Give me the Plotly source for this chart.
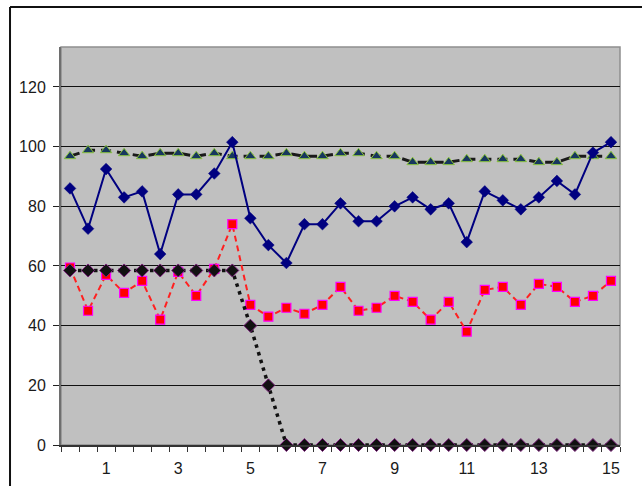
import plotly.graph_objects as go

# Sample positions (half-step categories) and the four measured series
x_vals = [0, 0.5, 1, 1.5, 2, 2.5, 3, 3.5, 4, 4.5, 5, 5.5, 6, 6.5, 7, 7.5,
          8, 8.5, 9, 9.5, 10, 10.5, 11, 11.5, 12, 12.5, 13, 13.5, 14, 14.5, 15]

series_blue = [86, 72.5, 92.5, 83, 85, 64, 84, 84, 91, 101.5, 76, 67, 61, 74, 74, 81,
               75, 75, 80, 83, 79, 81, 68, 85, 82, 79, 83, 88.5, 84, 98, 101.5]

series_green = [96.8, 98.8, 98.8, 97.8, 96.8, 97.8, 97.8, 96.8, 97.8, 96.8, 96.8, 96.8,
                97.8, 96.8, 96.8, 97.8, 97.8, 96.8, 96.8, 94.8, 94.8, 94.8, 95.8, 95.8,
                95.8, 95.8, 94.8, 94.8, 96.8, 96.8, 96.8]

series_red = [59.5, 45, 57, 51, 55, 42, 58, 50, 59, 74, 47, 43, 46, 44, 47, 53,
              45, 46, 50, 48, 42, 48, 38, 52, 53, 47, 54, 53, 48, 50, 55]

series_black = [58.5, 58.5, 58.5, 58.5, 58.5, 58.5, 58.5, 58.5, 58.5, 58.5, 40, 20,
                0, 0, 0, 0, 0, 0, 0, 0, 0, 0, 0, 0, 0, 0, 0, 0, 0, 0, 0]

y_ticks = [0, 20, 40, 60, 80, 100, 120]
x_ticks = [1, 3, 5, 7, 9, 11, 13, 15]
x_tick_text = ["1", "3", "5", "7", "9", "11", "13", "15"]

fig = go.Figure()

fig.add_trace(go.Scatter(
    x=x_vals, y=series_green, mode="lines+markers",
    line=dict(color="#1a1a1a", width=3, dash="10px,6px"),
    marker=dict(symbol="triangle-up", size=10, color="#17375E",
                line=dict(color="#8DC63F", width=1)),
    cliponaxis=False,
))
fig.add_trace(go.Scatter(
    x=x_vals, y=series_red, mode="lines+markers",
    line=dict(color="#FF2020", width=2, dash="6px,4px"),
    marker=dict(symbol="square", size=9, color="#FF0000",
                line=dict(color="#FF00FF", width=1.2)),
    cliponaxis=False,
))
fig.add_trace(go.Scatter(
    x=x_vals, y=series_black, mode="lines+markers",
    line=dict(color="#111111", width=3.5, dash="3.5px,4.5px"),
    marker=dict(symbol="diamond", size=10, color="#111111",
                line=dict(color="#7A1F7A", width=1)),
    cliponaxis=False,
))
fig.add_trace(go.Scatter(
    x=x_vals, y=series_blue, mode="lines+markers",
    line=dict(color="#000080", width=2),
    marker=dict(symbol="diamond", size=9, color="#000080",
                line=dict(color="#000080", width=0.5)),
    cliponaxis=False,
))

# Outer chart frame (left and top edges)
fig.add_shape(type="line", xref="paper", yref="paper",
              x0=-0.0912, x1=-0.0912, y0=-0.2, y1=1.1005,
              line=dict(color="#111111", width=2))
fig.add_shape(type="line", xref="paper", yref="paper",
              x0=-0.0912, x1=1.1, y0=1.1005, y1=1.1005,
              line=dict(color="#111111", width=2))
# Plot-area border
fig.add_shape(type="rect", xref="paper", yref="paper",
              x0=0, x1=1, y0=0, y1=1, layer="below",
              line=dict(color="#8E8E8E", width=1.5))

fig.update_layout(
    width=642, height=486,
    margin=dict(l=61, r=22, t=47, b=41, autoexpand=False),
    paper_bgcolor="white",
    plot_bgcolor="#C0C0C0",
    showlegend=False,
    font=dict(family="Liberation Sans, Arial, sans-serif", size=16, color="#1a1a1a"),
)

fig.update_xaxes(
    range=[-0.25, 15.25], automargin=False,
    tickmode="array", tickvals=x_ticks, ticktext=x_tick_text,
    ticks="", showgrid=False, zeroline=False,
    showline=True, linecolor="#333333", linewidth=1.5,
    ticklabelstandoff=8,
    minor=dict(tick0=-0.25, dtick=0.5, ticks="outside", ticklen=5,
               tickcolor="#333333", tickwidth=1, showgrid=False),
)

fig.update_yaxes(
    range=[0, 133.4], automargin=False,
    tickmode="array", tickvals=y_ticks,
    ticks="outside", ticklen=6, tickcolor="#222222",
    showgrid=True, gridcolor="#111111", gridwidth=1,
    zeroline=False,
    showline=True, linecolor="#6E6E6E", linewidth=2,
    ticklabelstandoff=4,
)

fig.write_html("out.html")
